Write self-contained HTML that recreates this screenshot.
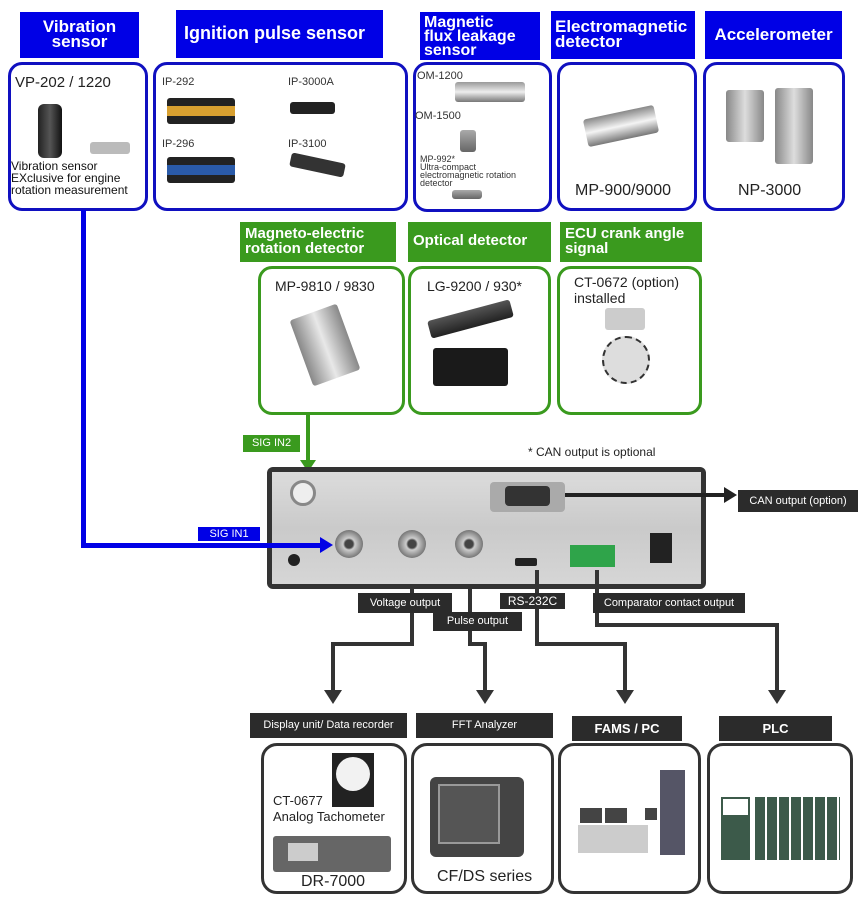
<!DOCTYPE html>
<html><head><meta charset="utf-8"><style>
*{margin:0;padding:0;box-sizing:border-box}
body{width:863px;height:902px;background:#fff;position:relative;overflow:hidden;font-family:"Liberation Sans","DejaVu Sans",sans-serif}
.a{position:absolute}
.bh{position:absolute;background:#0000e6;color:#fff;font-weight:bold;font-size:16px;line-height:15px;padding:3px 4px}
.gh{position:absolute;background:#3a9a1e;color:#fff;font-weight:bold;font-size:15px;line-height:15px;padding:4px 5px}
.bb{position:absolute;border:3px solid #1010c0;border-radius:14px;background:#fff}
.gb{position:absolute;border:3px solid #3a9a1e;border-radius:14px;background:#fff}
.kb{position:absolute;border:3px solid #333;border-radius:16px;background:#fff}
.kl{position:absolute;background:#2b2b2b;color:#fff;font-size:11px;text-align:center;line-height:22px}
.t{position:absolute;font-size:14px;color:#222;white-space:nowrap}
.s{position:absolute;font-size:11px;color:#333;white-space:nowrap}
.img{position:absolute;background:linear-gradient(#aaa,#666);border-radius:3px}
</style></head><body>
<div class="bh" style="left:20px;top:12px;width:119px;height:46px;text-align:center;font-size:17px;padding-top:7px">Vibration<br>sensor</div>
<div class="bh" style="left:176px;top:10px;width:207px;height:48px;font-size:18px;padding-top:16px;padding-left:8px">Ignition pulse sensor</div>
<div class="bh" style="left:420px;top:12px;width:120px;height:48px;font-size:16px;line-height:14px;padding-top:4px">Magnetic<br>flux leakage<br>sensor</div>
<div class="bh" style="left:551px;top:11px;width:144px;height:48px;font-size:17px;padding-top:8px">Electromagnetic<br>detector</div>
<div class="bh" style="left:705px;top:11px;width:137px;height:48px;padding-top:16px;font-size:17px;text-align:center">Accelerometer</div>
<div class="bb" style="left:8px;top:62px;width:140px;height:149px"></div>
<div class="bb" style="left:153px;top:62px;width:255px;height:149px"></div>
<div class="bb" style="left:413px;top:62px;width:139px;height:150px"></div>
<div class="bb" style="left:557px;top:62px;width:140px;height:149px"></div>
<div class="bb" style="left:703px;top:62px;width:142px;height:149px"></div>
<div class="t" style="left:15px;top:74px;font-size:15px">VP-202 / 1220</div>
<div class="img" style="left:38px;top:104px;width:24px;height:54px;background:linear-gradient(90deg,#222,#555,#111);border-radius:6px"></div>
<div class="img" style="left:90px;top:142px;width:40px;height:12px;background:#bbb"></div>
<div class="s" style="left:11px;top:160px;font-size:12px;line-height:12px;color:#111">Vibration sensor<br>EXclusive for engine<br>rotation measurement</div>
<div class="s" style="left:162px;top:76px">IP-292</div>
<div class="s" style="left:288px;top:76px">IP-3000A</div>
<div class="s" style="left:162px;top:138px">IP-296</div>
<div class="s" style="left:288px;top:138px">IP-3100</div>
<div class="img" style="left:167px;top:98px;width:68px;height:26px;background:linear-gradient(#222 0 30%,#d8a030 30% 70%,#222 70%)"></div>
<div class="img" style="left:167px;top:157px;width:68px;height:26px;background:linear-gradient(#222 0 30%,#2a5aa8 30% 70%,#222 70%)"></div>
<div class="img" style="left:290px;top:102px;width:45px;height:12px;background:#222"></div>
<div class="img" style="left:290px;top:158px;width:55px;height:14px;background:#333;transform:rotate(12deg)"></div>
<div class="s" style="left:417px;top:70px">OM-1200</div>
<div class="s" style="left:415px;top:110px">OM-1500</div>
<div class="img" style="left:455px;top:82px;width:70px;height:20px;background:linear-gradient(#999,#eee,#777)"></div>
<div class="img" style="left:460px;top:130px;width:16px;height:22px"></div>
<div class="s" style="left:420px;top:155px;font-size:9px;line-height:8px">MP-992*<br>Ultra-compact<br>electromagnetic rotation<br>detector</div>
<div class="img" style="left:452px;top:190px;width:30px;height:9px"></div>
<div class="img" style="left:585px;top:112px;width:72px;height:28px;background:linear-gradient(#888,#f4f4f4,#777);transform:rotate(-12deg)"></div>
<div class="t" style="left:575px;top:182px;font-size:16px">MP-900/9000</div>
<div class="img" style="left:726px;top:90px;width:38px;height:52px;background:linear-gradient(90deg,#888,#ddd,#888)"></div>
<div class="img" style="left:775px;top:88px;width:38px;height:76px;background:linear-gradient(90deg,#888,#ddd,#888)"></div>
<div class="t" style="left:738px;top:182px;font-size:16px">NP-3000</div>
<div class="gh" style="left:240px;top:222px;width:156px;height:40px">Magneto-electric<br>rotation detector</div>
<div class="gh" style="left:408px;top:222px;width:143px;height:40px;padding-top:11px">Optical detector</div>
<div class="gh" style="left:560px;top:222px;width:142px;height:40px">ECU crank angle<br>signal</div>
<div class="gb" style="left:258px;top:266px;width:147px;height:149px"></div>
<div class="gb" style="left:408px;top:266px;width:143px;height:149px"></div>
<div class="gb" style="left:557px;top:266px;width:145px;height:149px"></div>
<div class="t" style="left:275px;top:278px">MP-9810 / 9830</div>
<div class="img" style="left:300px;top:310px;width:50px;height:70px;background:linear-gradient(90deg,#888,#e8e8e8,#888);transform:rotate(-20deg)"></div>
<div class="t" style="left:427px;top:278px">LG-9200 / 930*</div>
<div class="img" style="left:428px;top:310px;width:85px;height:18px;background:linear-gradient(#555,#222);transform:rotate(-15deg)"></div>
<div class="img" style="left:433px;top:348px;width:75px;height:38px;background:#1a1a1a"></div>
<div class="t" style="left:574px;top:274px;line-height:16px">CT-0672 (option)<br>installed</div>
<div class="img" style="left:605px;top:308px;width:40px;height:22px;background:#ccc"></div>
<div class="a" style="left:602px;top:336px;width:48px;height:48px;border-radius:50%;background:#ddd;border:2px dashed #333"></div>
<div class="a" style="left:243px;top:435px;width:57px;height:17px;background:#3a9a1e;color:#fff;font-size:11px;text-align:center;line-height:17px">SIG IN2</div>
<div class="a" style="left:306px;top:415px;width:4px;height:46px;background:#3a9a1e"></div>
<div class="a" style="left:300px;top:460px;border-left:8px solid transparent;border-right:8px solid transparent;border-top:12px solid #3a9a1e"></div>
<div class="s" style="left:528px;top:445px;font-size:12px;color:#222">* CAN output is optional</div>
<div class="a" style="left:267px;top:467px;width:439px;height:122px;background:#333;border-radius:6px"></div>
<div class="a" style="left:272px;top:472px;width:429px;height:112px;background:linear-gradient(#dcdcdc,#cacaca,#d6d6d6)"></div>
<div class="a" style="left:290px;top:480px;width:26px;height:26px;border-radius:50%;background:#eee;border:3px solid #888"></div>
<div class="a" style="left:335px;top:530px;width:28px;height:28px;border-radius:50%;background:radial-gradient(#444 20%,#ccc 30%,#777 70%)"></div>
<div class="a" style="left:398px;top:530px;width:28px;height:28px;border-radius:50%;background:radial-gradient(#444 20%,#ccc 30%,#777 70%)"></div>
<div class="a" style="left:455px;top:530px;width:28px;height:28px;border-radius:50%;background:radial-gradient(#444 20%,#ccc 30%,#777 70%)"></div>
<div class="a" style="left:490px;top:482px;width:75px;height:30px;background:#aaa;border-radius:4px"></div>
<div class="a" style="left:505px;top:486px;width:45px;height:20px;background:#333;border-radius:4px"></div>
<div class="a" style="left:515px;top:558px;width:22px;height:8px;background:#222;border-radius:2px"></div>
<div class="a" style="left:570px;top:545px;width:45px;height:22px;background:#2fa44a"></div>
<div class="a" style="left:650px;top:533px;width:22px;height:30px;background:#222"></div>
<div class="a" style="left:288px;top:554px;width:12px;height:12px;border-radius:50%;background:#222"></div>
<div class="a" style="left:81px;top:210px;width:5px;height:338px;background:#0000e6"></div>
<div class="a" style="left:81px;top:543px;width:240px;height:5px;background:#0000e6"></div>
<div class="a" style="left:320px;top:537px;border-top:8px solid transparent;border-bottom:8px solid transparent;border-left:13px solid #0000e6"></div>
<div class="a" style="left:198px;top:527px;width:62px;height:14px;background:#0000e6;color:#fff;font-size:11px;text-align:center;line-height:14px">SIG IN1</div>
<div class="a" style="left:565px;top:493px;width:160px;height:4px;background:#222"></div>
<div class="a" style="left:724px;top:487px;border-top:8px solid transparent;border-bottom:8px solid transparent;border-left:13px solid #222"></div>
<div class="kl" style="left:738px;top:490px;width:120px;height:22px">CAN output (option)</div>
<div class="a" style="left:410px;top:588px;width:4px;height:57px;background:#333"></div>
<div class="a" style="left:331px;top:642px;width:83px;height:4px;background:#333"></div>
<div class="a" style="left:331px;top:642px;width:4px;height:48px;background:#333"></div>
<div class="a" style="left:468px;top:588px;width:4px;height:57px;background:#333"></div>
<div class="a" style="left:468px;top:642px;width:19px;height:4px;background:#333"></div>
<div class="a" style="left:483px;top:642px;width:4px;height:48px;background:#333"></div>
<div class="a" style="left:535px;top:570px;width:4px;height:75px;background:#333"></div>
<div class="a" style="left:535px;top:642px;width:92px;height:4px;background:#333"></div>
<div class="a" style="left:623px;top:642px;width:4px;height:48px;background:#333"></div>
<div class="a" style="left:595px;top:570px;width:4px;height:57px;background:#333"></div>
<div class="a" style="left:595px;top:623px;width:184px;height:4px;background:#333"></div>
<div class="a" style="left:775px;top:623px;width:4px;height:67px;background:#333"></div>
<div class="a" style="left:324px;top:690px;border-left:9px solid transparent;border-right:9px solid transparent;border-top:14px solid #333"></div>
<div class="a" style="left:476px;top:690px;border-left:9px solid transparent;border-right:9px solid transparent;border-top:14px solid #333"></div>
<div class="a" style="left:616px;top:690px;border-left:9px solid transparent;border-right:9px solid transparent;border-top:14px solid #333"></div>
<div class="a" style="left:768px;top:690px;border-left:9px solid transparent;border-right:9px solid transparent;border-top:14px solid #333"></div>
<div class="kl" style="left:358px;top:593px;width:94px;height:20px;line-height:20px">Voltage output</div>
<div class="kl" style="left:433px;top:612px;width:89px;height:19px;line-height:19px">Pulse output</div>
<div class="kl" style="left:500px;top:593px;width:65px;height:16px;line-height:16px;font-size:12px">RS-232C</div>
<div class="kl" style="left:593px;top:593px;width:152px;height:20px;line-height:20px">Comparator contact output</div>
<div class="kl" style="left:250px;top:713px;width:157px;height:25px;line-height:25px">Display unit/ Data recorder</div>
<div class="kl" style="left:416px;top:713px;width:137px;height:25px;line-height:25px">FFT Analyzer</div>
<div class="kl" style="left:572px;top:716px;width:110px;height:25px;line-height:25px;font-weight:bold;font-size:13px">FAMS / PC</div>
<div class="kl" style="left:719px;top:716px;width:113px;height:25px;line-height:25px;font-weight:bold;font-size:13px">PLC</div>
<div class="kb" style="left:261px;top:743px;width:146px;height:151px"></div>
<div class="kb" style="left:411px;top:743px;width:143px;height:151px"></div>
<div class="kb" style="left:558px;top:743px;width:143px;height:151px"></div>
<div class="kb" style="left:707px;top:743px;width:146px;height:151px"></div>
<div class="a" style="left:332px;top:753px;width:42px;height:54px;background:#222"></div>
<div class="a" style="left:336px;top:757px;width:34px;height:34px;border-radius:50%;background:#f2f2f2"></div>
<div class="t" style="left:273px;top:793px;font-size:13px;line-height:16px">CT-0677<br>Analog Tachometer</div>
<div class="a" style="left:273px;top:836px;width:118px;height:36px;background:#666;border-radius:3px"></div>
<div class="a" style="left:288px;top:843px;width:30px;height:18px;background:#ccc"></div>
<div class="t" style="left:301px;top:873px;font-size:16px">DR-7000</div>
<div class="a" style="left:430px;top:777px;width:94px;height:80px;background:#444;border-radius:6px"></div>
<div class="a" style="left:438px;top:784px;width:62px;height:60px;background:#555;border:2px solid #999"></div>
<div class="t" style="left:437px;top:868px;font-size:16px">CF/DS series</div>
<div class="a" style="left:660px;top:770px;width:25px;height:85px;background:#556"></div>
<div class="a" style="left:578px;top:825px;width:70px;height:28px;background:#ccc"></div>
<div class="a" style="left:580px;top:808px;width:22px;height:15px;background:#444"></div>
<div class="a" style="left:605px;top:808px;width:22px;height:15px;background:#444"></div>
<div class="a" style="left:645px;top:808px;width:12px;height:12px;background:#444"></div>
<div class="a" style="left:721px;top:797px;width:29px;height:63px;background:#3c5a4a"></div>
<div class="a" style="left:723px;top:799px;width:25px;height:16px;background:#fff"></div>
<div class="a" style="left:755px;top:797px;width:85px;height:63px;background:repeating-linear-gradient(90deg,#3c5a4a 0 10px,#fff 10px 12px)"></div>
</body></html>
